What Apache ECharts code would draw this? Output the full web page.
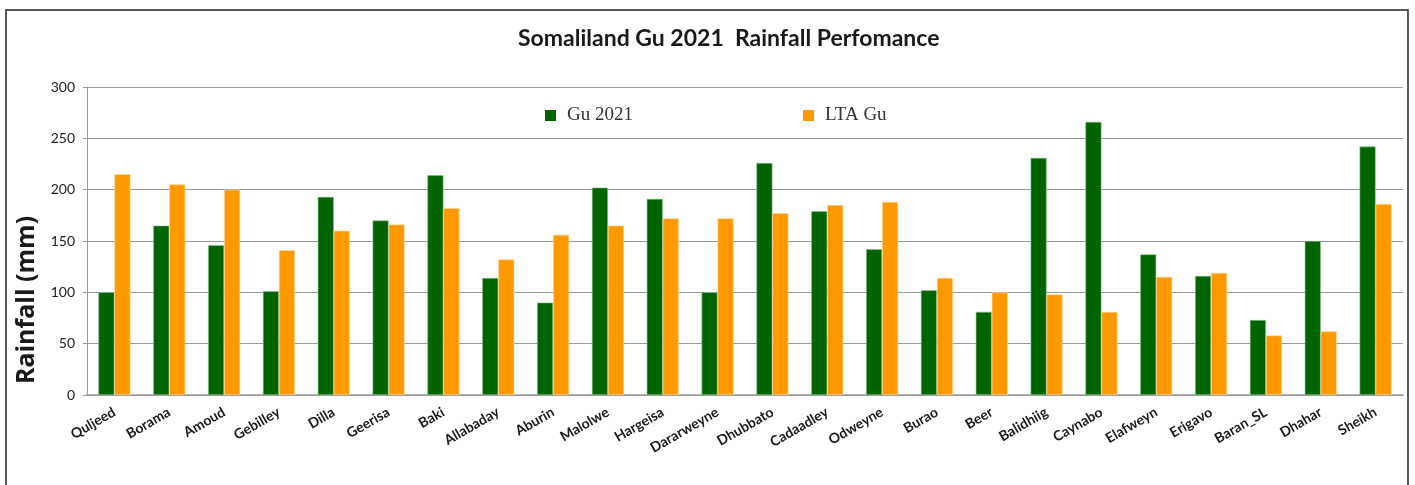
<!DOCTYPE html>
<html>
<head>
<meta charset="utf-8">
<script src="https://cdn.jsdelivr.net/npm/echarts@6/dist/echarts.min.js"></script>
<style>
  html, body { margin: 0; padding: 0; background: #fff; }
  #chart { width: 1415px; height: 485px; }
</style>
</head>
<body>
<div id="chart"></div>
<script>
// Gu 2021 rainfall vs long-term average, per station
var stations = ['Quljeed', 'Borama', 'Amoud', 'Gebilley', 'Dilla', 'Geerisa', 'Baki', 'Allabaday',
  'Aburin', 'Malolwe', 'Hargeisa', 'Dararweyne', 'Dhubbato', 'Cadaadley', 'Odweyne', 'Burao',
  'Beer', 'Balidhiig', 'Caynabo', 'Elafweyn', 'Erigavo', 'Baran_SL', 'Dhahar', 'Sheikh'];
var gu2021 = [100, 165, 146, 101, 193, 170, 214, 114, 90, 202, 191, 100, 226, 179, 142, 102,
  81, 231, 266, 137, 116, 73, 150, 242];
var ltaGu = [215, 205, 200, 141, 160, 166, 182, 132, 156, 165, 172, 172, 177, 185, 188, 114,
  100, 98, 81, 115, 119, 58, 62, 186];
var seriesNames = ['Gu 2021', 'LTA Gu'];

(function () {
  var green = '#006400';
  var orange = '#ff9900';
  var grey = '#9a9a9a';
  var ink = '#1a1a1a';

  var chart = echarts.init(document.getElementById('chart'), null, { renderer: 'canvas' });
  chart.setOption({
    animation: false,
    backgroundColor: '#fff',
    title: {
      text: 'Somaliland Gu 2021  Rainfall Perfomance',
      left: 513,
      top: 22,
      textStyle: { fontFamily: 'Lato', fontWeight: 'bold', fontSize: 23, color: ink }
    },
    legend: {
      data: seriesNames,
      left: 540,
      top: 101,
      itemWidth: 11,
      itemHeight: 11,
      itemGap: 170,
      icon: 'rect',
      itemStyle: { borderWidth: 0 },
      textStyle: {
        fontFamily: 'Liberation Serif',
        fontSize: 19,
        color: '#333',
        padding: [0, 0, 3, 6]
      }
    },
    grid: { left: 87, right: 12, top: 87, bottom: 90 },
    xAxis: {
      type: 'category',
      data: stations,
      axisLine: { lineStyle: { color: grey, width: 1.5 } },
      axisTick: { show: false },
      axisLabel: {
        interval: 0,
        rotate: 30,
        margin: 16,
        fontFamily: 'Lato',
        fontWeight: 'bold',
        fontSize: 14,
        color: ink
      }
    },
    yAxis: {
      type: 'value',
      min: 0,
      max: 300,
      interval: 50,
      name: 'Rainfall (mm)',
      nameLocation: 'middle',
      nameGap: 44,
      nameTextStyle: {
        fontFamily: 'Open Sans',
        fontWeight: 'bold',
        fontSize: 25,
        color: ink,
        padding: [0, 118, 0, 0]
      },
      axisLine: { show: true, lineStyle: { color: grey } },
      axisTick: { show: true, length: 4, lineStyle: { color: grey } },
      axisLabel: { fontFamily: 'Lato', fontSize: 14, color: '#222', margin: 12 },
      splitLine: { lineStyle: { color: grey, width: 1.2 } }
    },
    series: [
      {
        name: seriesNames[0],
        type: 'bar',
        data: gu2021,
        barWidth: 16,
        barGap: '0%',
        itemStyle: { color: green, borderColor: '#8fbf8f', borderWidth: 0.6 }
      },
      {
        name: seriesNames[1],
        type: 'bar',
        data: ltaGu,
        barWidth: 16,
        barGap: '0%',
        itemStyle: { color: orange, borderColor: '#ffd9a0', borderWidth: 0.6 }
      }
    ],
    graphic: [{
      type: 'rect',
      silent: true,
      shape: { x: 6, y: 10, width: 1402, height: 490 },
      style: { fill: 'none', stroke: '#222', lineWidth: 1.5 }
    }]
  });
  window.addEventListener('resize', function () { chart.resize(); });
})();
</script>
</body>
</html>
